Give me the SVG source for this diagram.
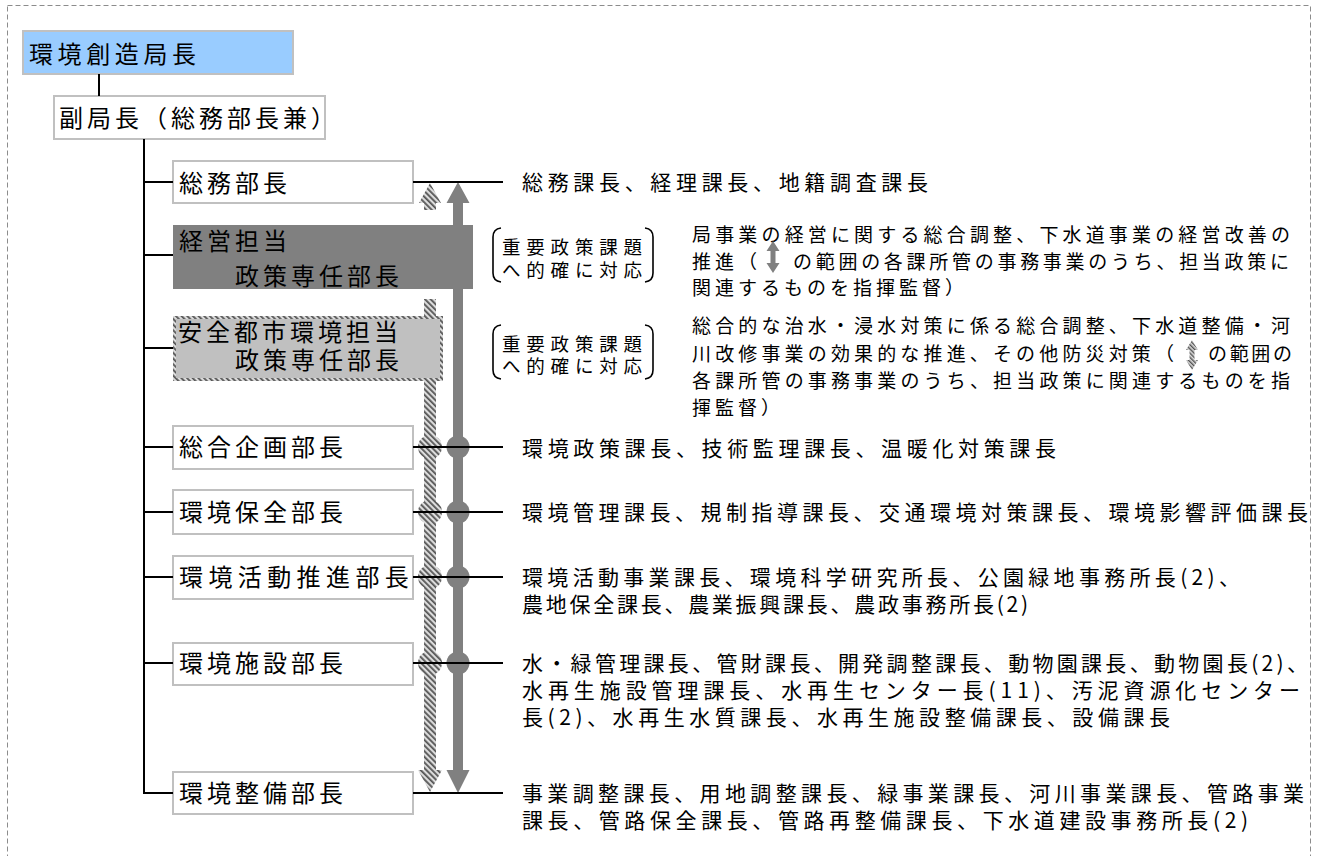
<svg xmlns="http://www.w3.org/2000/svg" width="1320" height="856" viewBox="0 0 1320 856">
  <defs>
    <pattern id="hatch" patternUnits="userSpaceOnUse" width="4" height="4" patternTransform="rotate(-45)">
      <rect width="4" height="4" fill="#dcdcdc"/>
      <rect width="1.8" height="4" fill="#555"/>
    </pattern>
    <pattern id="hatchS" patternUnits="userSpaceOnUse" width="3" height="3" patternTransform="rotate(-45)">
      <rect width="3" height="3" fill="#dcdcdc"/>
      <rect width="1.4" height="3" fill="#555"/>
    </pattern>
    <style>
      text { font-family: "Noto Sans CJK JP", "Noto Sans CJK SC", sans-serif; fill: #000; }
      .lbl { font-size: 24px; letter-spacing: 4px; }
      .lst { font-size: 21px; letter-spacing: 4px; }
      .dsc { font-size: 19px; letter-spacing: 4px; }
      .brk { font-size: 18.5px; }
      .box { fill: #fff; stroke: #c0c0c0; stroke-width: 2; }
      .ln { stroke: #000; stroke-width: 2; fill: none; }
      .br { stroke: #000; stroke-width: 1.6; fill: none; }
    </style>
  </defs>
  <rect width="1320" height="856" fill="#fff"/>
  <g id="frame">
    <rect x="7.5" y="5.5" width="1303" height="900" fill="none" stroke="#8c8c8c" stroke-width="1" stroke-dasharray="5,3"/>
  </g>

  <g id="arrows">
    <polygon points="430,183 441,203 436,203 436,210 424,210 424,203 419,203" fill="url(#hatch)"/>
    <rect x="424" y="299" width="12" height="472" fill="url(#hatch)"/>
    <polygon points="418,770 442,770 430,792" fill="url(#hatch)"/>
    <polygon points="458,182 469.5,203 463,203 463,770 469.5,770 458,793 446.5,770 453,770 453,203 446.5,203" fill="#808080"/>
    <g fill="url(#hatch)">
      <circle cx="430" cy="447" r="12"/>
      <circle cx="430" cy="512" r="12"/>
      <circle cx="430" cy="577" r="12"/>
      <circle cx="430" cy="663" r="12"/>
    </g>
    <g fill="#808080">
      <circle cx="458" cy="447" r="11.5"/>
      <circle cx="458" cy="512" r="11.5"/>
      <circle cx="458" cy="577" r="11.5"/>
      <circle cx="458" cy="663" r="11.5"/>
    </g>
  </g>

  <g id="n-kyokucho">
    <rect x="23" y="31" width="270" height="43" fill="#99ccff" stroke="#c0c0c0" stroke-width="2"/>
    <text class="lbl" x="29" y="63" style="letter-spacing:4.6px">環境創造局長</text>
  </g>
  <g id="n-fukukyokucho">
    <rect class="box" x="54" y="96" width="271" height="43"/>
    <text class="lbl" x="59" y="127">副局長（総務部長兼）</text>
  </g>
  <g id="n-somu">
    <rect class="box" x="173" y="161" width="240" height="42"/>
    <text class="lbl" x="179" y="192">総務部長</text>
  </g>
  <g id="n-keiei">
    <rect x="173" y="225" width="300" height="64" fill="#808080"/>
    <text class="lbl" x="179" y="250">経営担当</text>
    <text class="lbl" x="235" y="285">政策専任部長</text>
  </g>
  <g id="n-anzen">
    <rect x="174.5" y="317.5" width="267" height="62" fill="#c0c0c0" stroke="url(#hatch)" stroke-width="3"/>
    <text class="lbl" x="178" y="341">安全都市環境担当</text>
    <text class="lbl" x="235" y="369">政策専任部長</text>
  </g>
  <g id="n-sogokikaku">
    <rect class="box" x="173" y="426" width="240" height="43"/>
    <text class="lbl" x="179" y="456">総合企画部長</text>
  </g>
  <g id="n-hozen">
    <rect class="box" x="173" y="490" width="240" height="44"/>
    <text class="lbl" x="179" y="521">環境保全部長</text>
  </g>
  <g id="n-katsudo">
    <rect class="box" x="173" y="556" width="240" height="43"/>
    <text class="lbl" x="179" y="586" style="letter-spacing:5.4px">環境活動推進部長</text>
  </g>
  <g id="n-shisetsu">
    <rect class="box" x="173" y="643" width="240" height="42"/>
    <text class="lbl" x="179" y="672">環境施設部長</text>
  </g>
  <g id="n-seibi">
    <rect class="box" x="173" y="772" width="240" height="42"/>
    <text class="lbl" x="179" y="802">環境整備部長</text>
  </g>

  <g id="connectors">
    <line class="ln" x1="99" y1="74" x2="99" y2="96"/>
    <polyline class="ln" points="144,139 144,793 173,793"/>
    <line class="ln" x1="144" y1="182" x2="173" y2="182"/>
    <line class="ln" x1="144" y1="255" x2="173" y2="255"/>
    <line class="ln" x1="144" y1="348" x2="173" y2="348"/>
    <line class="ln" x1="144" y1="447" x2="173" y2="447"/>
    <line class="ln" x1="144" y1="512" x2="173" y2="512"/>
    <line class="ln" x1="144" y1="577" x2="173" y2="577"/>
    <line class="ln" x1="144" y1="663" x2="173" y2="663"/>
    <line class="ln" x1="413" y1="182" x2="503" y2="182"/>
    <line class="ln" x1="413" y1="447" x2="503" y2="447"/>
    <line class="ln" x1="413" y1="512" x2="503" y2="512"/>
    <line class="ln" x1="413" y1="577" x2="503" y2="577"/>
    <line class="ln" x1="413" y1="663" x2="503" y2="663"/>
    <line class="ln" x1="413" y1="793" x2="503" y2="793"/>
  </g>

  <g id="brackets">
    <path class="br" d="M501,228 Q493,229 493,237 L493,273 Q493,281 501,282"/>
    <path class="br" d="M645,228 Q653,229 653,237 L653,273 Q653,281 645,282"/>
    <text class="brk" x="502" y="254" textLength="140" lengthAdjust="spacing">重要政策課題</text>
    <text class="brk" x="502" y="277" textLength="140" lengthAdjust="spacing">へ的確に対応</text>
    <path class="br" d="M501,325 Q493,326 493,334 L493,370 Q493,378 501,379"/>
    <path class="br" d="M645,325 Q653,326 653,334 L653,370 Q653,378 645,379"/>
    <text class="brk" x="502" y="351" textLength="140" lengthAdjust="spacing">重要政策課題</text>
    <text class="brk" x="502" y="373" textLength="140" lengthAdjust="spacing">へ的確に対応</text>
  </g>

  <g id="desc-keiei">
    <text class="dsc" x="692" y="242" textLength="602" lengthAdjust="spacing">局事業の経営に関する総合調整、下水道事業の経営改善の</text>
    <text class="dsc" x="692" y="269">推進（</text>
    <polygon points="773,241 779.5,251 775.5,251 775.5,263 779.5,263 773,273 766.5,263 770.5,263 770.5,251 766.5,251" fill="#808080"/>
    <text class="dsc" x="793" y="269" textLength="500" lengthAdjust="spacing">の範囲の各課所管の事務事業のうち、担当政策に</text>
    <text class="dsc" x="692" y="295">関連するものを指揮監督）</text>
  </g>
  <g id="desc-anzen">
    <text class="dsc" x="692" y="333" textLength="602" lengthAdjust="spacing">総合的な治水・浸水対策に係る総合調整、下水道整備・河</text>
    <text class="dsc" x="692" y="361" textLength="486" lengthAdjust="spacing">川改修事業の効果的な推進、その他防災対策（</text>
    <polygon points="1192,340 1198,350 1194.5,350 1194.5,360 1198,360 1192,370 1186,360 1189.5,360 1189.5,350 1186,350" fill="url(#hatchS)"/>
    <text class="dsc" x="1208" y="361" textLength="88" lengthAdjust="spacing">の範囲の</text>
    <text class="dsc" x="692" y="388" textLength="602" lengthAdjust="spacing">各課所管の事務事業のうち、担当政策に関連するものを指</text>
    <text class="dsc" x="692" y="415">揮監督）</text>
  </g>

  <g id="lists">
    <text class="lst" x="522" y="190" textLength="410" lengthAdjust="spacing">総務課長、経理課長、地籍調査課長</text>
    <text class="lst" x="522" y="456" textLength="538" lengthAdjust="spacing">環境政策課長、技術監理課長、温暖化対策課長</text>
    <text class="lst" x="522" y="520" textLength="790" lengthAdjust="spacing">環境管理課長、規制指導課長、交通環境対策課長、環境影響評価課長</text>
    <text class="lst" x="522" y="585" textLength="722" lengthAdjust="spacing">環境活動事業課長、環境科学研究所長、公園緑地事務所長(2)、</text>
    <text class="lst" x="522" y="612" textLength="510" lengthAdjust="spacing">農地保全課長、農業振興課長、農政事務所長(2)</text>
    <text class="lst" x="522" y="671" textLength="790" lengthAdjust="spacing">水・緑管理課長、管財課長、開発調整課長、動物園課長、動物園長(2)、</text>
    <text class="lst" x="522" y="698" textLength="782" lengthAdjust="spacing">水再生施設管理課長、水再生センター長(11)、汚泥資源化センター</text>
    <text class="lst" x="522" y="725" textLength="652" lengthAdjust="spacing">長(2)、水再生水質課長、水再生施設整備課長、設備課長</text>
    <text class="lst" x="522" y="801" textLength="786" lengthAdjust="spacing">事業調整課長、用地調整課長、緑事業課長、河川事業課長、管路事業</text>
    <text class="lst" x="522" y="828" textLength="730" lengthAdjust="spacing">課長、管路保全課長、管路再整備課長、下水道建設事務所長(2)</text>
  </g>
</svg>
